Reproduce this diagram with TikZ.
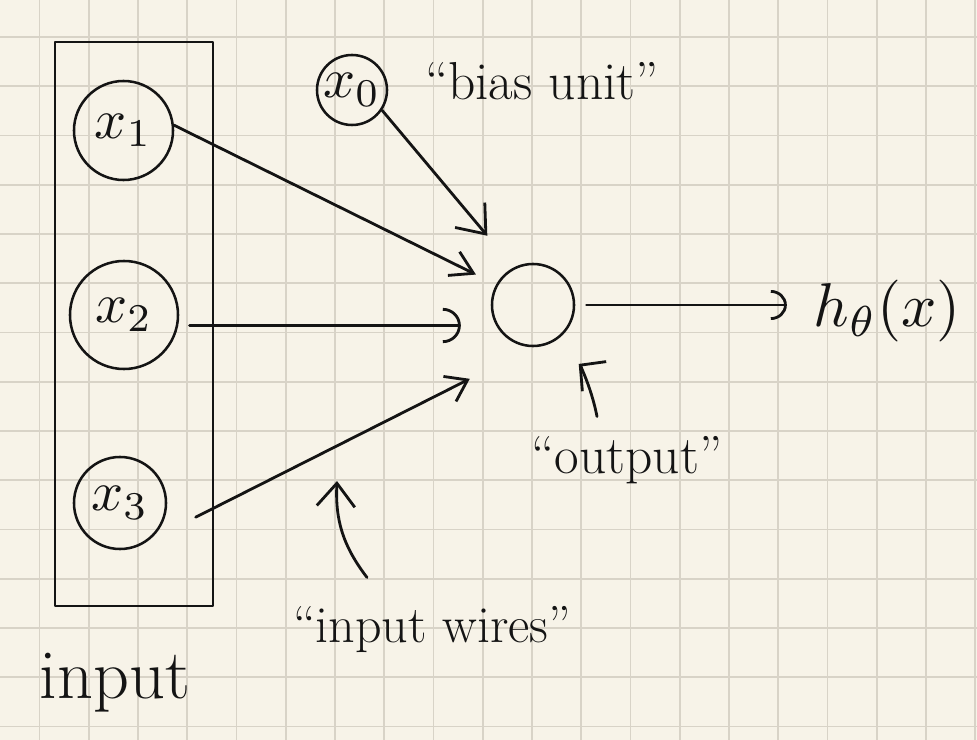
\documentclass[tikz,border=0pt]{standalone}
\usetikzlibrary{arrows.meta}

\definecolor{paper}{RGB}{247,243,232}
\definecolor{gridline}{RGB}{216,211,199}
\definecolor{ink}{RGB}{20,20,20}

\begin{document}
\begin{tikzpicture}[x=0.025cm,y=-0.025cm,>={Straight Barb[length=5mm,width=9mm]},line width=2pt,color=ink,line cap=round,line join=round]
\tikzstyle{neuron}=[circle,draw,line width=1.8pt,inner sep=0pt,font=\normalsize]
\tikzstyle{hand}=[anchor=base,inner sep=0pt,font=\fontsize{38}{42}\selectfont]
\tikzstyle{wire}=[->]

% squared paper
\fill[paper] (0,0) rectangle (977,740);
\useasboundingbox (0,0) rectangle (977,740);
\foreach \gx in {0,...,19}
  \draw[gridline,line width=1.2pt] (39.5+49.25*\gx,0) -- (39.5+49.25*\gx,740);
\foreach \gy in {0,...,14}
  \draw[gridline,line width=1.2pt] (0,37+49.25*\gy) -- (977,37+49.25*\gy);

\node[draw,minimum width=3.95cm,minimum height=14.1cm] (box) at (134,324) {};
\node[neuron,minimum size=2.475cm] (x1) at (123.5,130.5) {\scalebox{4}{$x_1$}};
\node[neuron,minimum size=2.7cm]   (x2) at (124,315) {\scalebox{4}{$x_2$}};
\node[neuron,minimum size=2.3cm]   (x3) at (120,503) {\scalebox{4}{$x_3$}};
\node[neuron,minimum size=1.75cm]  (x0) at (352,90) {\scalebox{4}{$x_0$}};
\node[neuron,minimum size=2.05cm]  (out) at (533,305) {};
\node[hand,font=\normalsize] (h) at (887,327) {\scalebox{4.4}{$h_\theta(x)$}};
\node[hand]                                   (bias) at (542,100) {“bias unit”};
\node[hand,font=\fontsize{38}{42}\selectfont] (outlbl) at (627,473) {“output”};
\node[hand,font=\fontsize{37}{40}\selectfont] (wirelbl) at (432,642) {“input wires”};
\node[hand,font=\fontsize{50}{54}\selectfont] (inlbl) at (115,698) {input};
\coordinate (wiretip) at (337,481);

\path
(x0.-34) edge[wire,shorten >=1.03cm,>={Straight Barb[length=6.2mm,width=9.7mm]}] (out.117)
(x1.6) edge[wire,shorten >=0.56cm,>={Straight Barb[length=5.5mm,width=6.6mm]}] (out.151)
(x2.-11) edge[wire,shorten <=0.28cm,shorten >=0.88cm,>={Arc Barb[length=4.5mm,width=8.8mm]}] (out.209)
(x3.-55) edge[wire,shorten <=1.36cm,shorten >=1.75cm,>={Straight Barb[length=5mm,width=7mm]}] (out.-91)
(out.east) edge[wire,shorten <=0.28cm,shorten >=0.63cm,>={Arc Barb[length=4mm,width=7.5mm]}] (out.east -| h.west)
([shift={(-30,-18)}]outlbl.north) edge[wire,bend right=20,shorten >=0.85cm,>={Straight Barb[length=4.5mm,width=9.5mm]}] (out.-63)
([shift={(-65,-27)}]wirelbl.north) edge[wire,bend left=20,>={Straight Barb[length=5.8mm,width=9.5mm]}] (wiretip)
;
\end{tikzpicture}
\end{document}
